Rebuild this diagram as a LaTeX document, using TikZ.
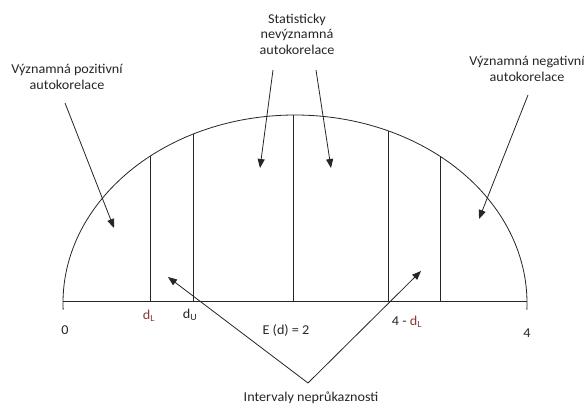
\documentclass[tikz,border=0pt]{standalone}
\usepackage{fontspec}
\setmainfont{Carlito}[FakeStretch=1.05]
\usetikzlibrary{arrows.meta}
\definecolor{spellred}{rgb}{0.55,0.22,0.22}
\begin{document}
\begin{tikzpicture}[x=1pt,y=-1pt,
  lbl/.style={align=center,font=\fontsize{13.5}{15.5}\selectfont,inner sep=0pt,text=black!85},
  ln/.style={line width=0.8pt,draw=black!85},
  arr/.style={ln,-{Triangle[length=9pt,width=7pt]}}]
\useasboundingbox[fill=white] (0,0) rectangle (584,405);

% semi-ellipse and base line
\draw[ln] (295,303) ++(178:232 and 188) arc[start angle=178, end angle=362, x radius=232, y radius=188];
\coordinate (L) at (63,301);
\coordinate (R) at (527,301);
\draw[ln] (L) -- (R);

% vertical separators
\coordinate (b1) at (150,301); \coordinate (t1) at (150,156.2);
\coordinate (b2) at (193,301); \coordinate (t2) at (193,134.1);
\coordinate (b3) at (293,301); \coordinate (t3) at (293,115);
\coordinate (b4) at (388,301); \coordinate (t4) at (388,130.8);
\coordinate (b5) at (440,301); \coordinate (t5) at (440,156.2);
\foreach \i in {1,...,5} \draw[ln] (b\i) -- (t\i);

% labels
\node[lbl] (pos) at (67,77) {Významná pozitivní\\autokorelace};
\node[lbl] (mid) at (297,34) {Statisticky\\nevýznamná\\autokorelace};
\node[lbl] (neg) at (527,69) {Významná negativní\\autokorelace};
\node[lbl] (int) at (311,398) {Intervaly neprůkaznosti};

\node[lbl] (n0) at (65,330) {0};
\node[lbl] (ndl) at (149,316) {\color{spellred}d\textsubscript{L}};
\node[lbl] (ndu) at (190,315) {d\textsubscript{U}};
\node[lbl] (ned) at (286,330) {E (d) = 2};
\node[lbl] (n4dl) at (407,322) {4 - {\color{spellred}d\textsubscript{L}}};
\node[lbl] (n4) at (527,333) {4};

% arrows from labels
\coordinate (ps) at (65,103);  \coordinate (pt) at (114,228);
\coordinate (m1s) at (273,70); \coordinate (m1t) at (260,168);
\coordinate (m2s) at (316,70); \coordinate (m2t) at (331,168);
\coordinate (ns) at (528,95);  \coordinate (nt) at (479,219);
\draw[arr] (ps) -- (pt);
\draw[arr] (m1s) -- (m1t);
\draw[arr] (m2s) -- (m2t);
\draw[arr] (ns) -- (nt);

% interval arrows
\coordinate (v) at (308,383);
\coordinate (it1) at (168,277);
\coordinate (it2) at (421,271);
\draw[arr] (v) -- (it1);
\draw[arr] (v) -- (it2);
\end{tikzpicture}
\end{document}
